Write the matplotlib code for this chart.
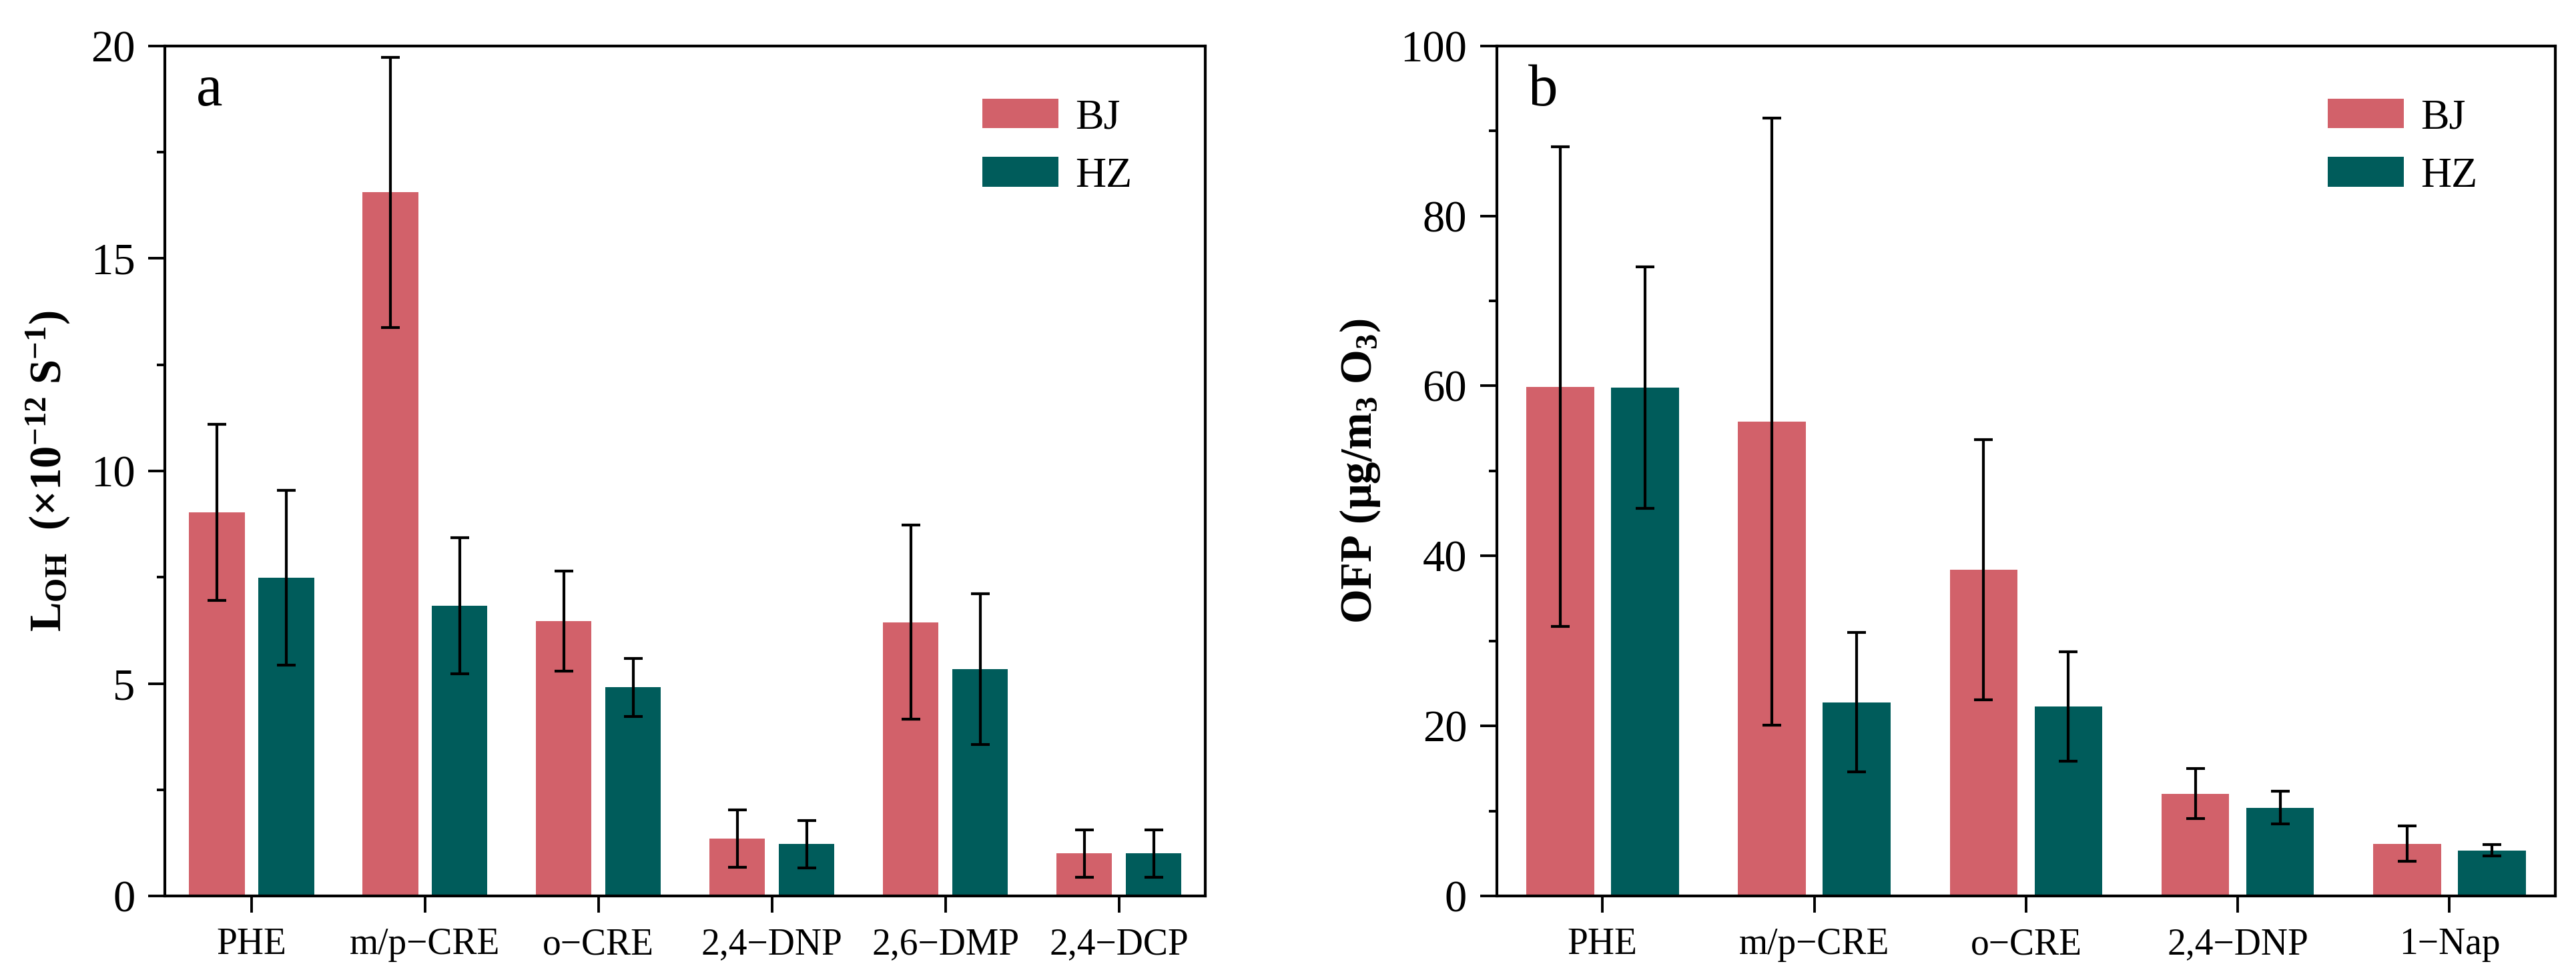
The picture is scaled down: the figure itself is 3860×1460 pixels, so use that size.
import matplotlib
matplotlib.use("Agg")
import matplotlib.pyplot as plt
import numpy as np

plt.rcParams["font.family"] = ["Liberation Serif", "DejaVu Serif"]
plt.rcParams["mathtext.fontset"] = "custom"
plt.rcParams["mathtext.rm"] = "Liberation Serif"
plt.rcParams["mathtext.bf"] = "Liberation Serif:bold"
plt.rcParams["mathtext.it"] = "Liberation Serif:italic"

# panel a: L_OH
cats_a = ["PHE", "m/p\u2212CRE", "o\u2212CRE", "2,4\u2212DNP", "2,6\u2212DMP", "2,4\u2212DCP"]
bj_a = [9.03, 16.55, 6.47, 1.35, 6.44, 1.0]
bj_a_err = [2.07, 3.18, 1.18, 0.67, 2.28, 0.55]
hz_a = [7.49, 6.83, 4.91, 1.22, 5.34, 1.0]
hz_a_err = [2.05, 1.6, 0.68, 0.55, 1.77, 0.55]

# panel b: OFP
cats_b = ["PHE", "m/p\u2212CRE", "o\u2212CRE", "2,4\u2212DNP", "1\u2212Nap"]
bj_b = [59.9, 55.8, 38.4, 12.05, 6.17]
bj_b_err = [28.2, 35.7, 15.3, 2.95, 2.05]
hz_b = [59.8, 22.8, 22.3, 10.4, 5.36]
hz_b_err = [14.2, 8.2, 6.4, 1.95, 0.67]

c_bj = "#D2616A"
c_hz = "#005C5B"

fig = plt.figure(figsize=(19.3, 7.3), dpi=200)
ax1 = fig.add_axes([0.064, 0.080, 0.404, 0.873])
ax2 = fig.add_axes([0.581, 0.080, 0.411, 0.873])


def draw(ax, cats, bj, bj_err, hz, hz_err, ymax, step, minor, ylabel, tag):
    x = np.arange(len(cats))
    w = 0.32
    ekw = dict(elinewidth=1.5, capthick=1.5, ecolor="black")
    ax.bar(x - 0.2, bj, w, yerr=bj_err, color=c_bj, capsize=5, error_kw=ekw, label="BJ")
    ax.bar(x + 0.2, hz, w, yerr=hz_err, color=c_hz, capsize=5, error_kw=ekw, label="HZ")
    ax.set_xlim(-0.5, len(cats) - 0.5)
    ax.set_ylim(0, ymax)
    ax.set_xticks(x)
    ax.set_xticklabels(cats, fontsize=20)
    ax.set_yticks(np.arange(0, ymax + 0.01, step))
    ax.set_yticks(np.arange(minor, ymax, step), minor=True)
    ax.tick_params(axis="y", which="major", labelsize=24, length=9, width=1.4, pad=7)
    ax.tick_params(axis="y", which="minor", length=4.5, width=1.4)
    ax.tick_params(axis="x", length=9, width=1.4, pad=8)
    for s in ax.spines.values():
        s.set_linewidth(1.5)
    ax.set_ylabel(ylabel, fontsize=24, fontweight="bold", labelpad=10)
    ax.text(0.03, 0.93, tag, transform=ax.transAxes, fontsize=32, va="baseline")
    ax.legend(loc="upper left", bbox_to_anchor=(0.765, 0.963), frameon=False,
              fontsize=23, handlelength=1.78, handleheight=0.7,
              handletextpad=0.4, labelspacing=0.45, borderpad=0)


draw(ax1, cats_a, bj_a, bj_a_err, hz_a, hz_a_err, 20, 5, 2.5,
     "L$_\\mathbf{OH}$  (\u00d710$^\\mathbf{-12}$ S$^\\mathbf{\u22121}$)", "a")
draw(ax2, cats_b, bj_b, bj_b_err, hz_b, hz_b_err, 100, 20, 10,
     "OFP (\u03bcg/m$_\\mathregular{3}$ O$_\\mathregular{3}$)", "b")

fig.savefig("out.png", dpi=200)
